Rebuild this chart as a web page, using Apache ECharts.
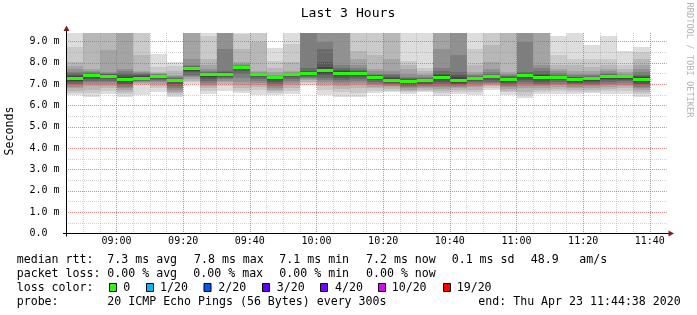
<!DOCTYPE html>
<html><head><meta charset="utf-8">
<script src="https://cdn.jsdelivr.net/npm/echarts@6/dist/echarts.min.js"></script>
<style>html,body{margin:0;padding:0;background:#fff}#c{width:697px;height:315px}</style>
</head><body><div id="c"></div>
<script>
// ---------- DATA ----------
const title = 'Last 3 Hours';
const yName = 'Seconds';
const axisStart = '08:45';
const axisEnd = '11:45';
const stepMinutes = 5;
const xTickLabels = ['09:00','09:20','09:40','10:00','10:20','10:40','11:00','11:20','11:40'];
const yTickLabels = ['0.0','1.0 m','2.0 m','3.0 m','4.0 m','5.0 m','6.0 m','7.0 m','8.0 m','9.0 m'];
const times = ['08:45','08:50','08:55','09:00','09:05','09:10','09:15','09:20','09:25','09:30','09:35','09:40',
  '09:45','09:50','09:55','10:00','10:05','10:10','10:15','10:20','10:25','10:30','10:35','10:40',
  '10:45','10:50','10:55','11:00','11:05','11:10','11:15','11:20','11:25','11:30','11:35'];
const medians = [7.27,7.40,7.37,7.22,7.28,7.34,7.19,7.73,7.45,7.45,7.78,7.45,7.30,7.45,7.52,7.62,7.50,7.48,
  7.32,7.18,7.14,7.16,7.32,7.18,7.28,7.36,7.20,7.42,7.30,7.33,7.22,7.25,7.36,7.34,7.24];
// 20 sorted ping round-trip times (ms) per 5-minute step
const col00 = [6.47,6.60,6.70,6.80,6.88,6.95,7.02,7.08,7.15,7.22,7.32,7.38,7.45,7.52,7.58,7.70,7.85,8.03,8.73,9.60];
const col01 = [6.39,6.60,6.75,6.90,7.00,7.09,7.15,7.22,7.30,7.36,7.43,7.45,7.48,7.52,7.56,7.62,7.72,9.50,9.70,9.90];
const col02 = [6.55,6.68,6.80,6.90,7.00,7.08,7.15,7.22,7.28,7.34,7.40,7.43,7.46,7.49,7.52,7.56,8.58,9.50,9.70,9.90];
const col03 = [6.39,6.52,6.62,6.72,6.80,6.88,6.95,7.02,7.10,7.18,7.27,7.34,7.42,7.52,7.62,7.72,9.45,9.60,9.80,10.0];
const col04 = [6.49,6.96,7.02,7.06,7.10,7.13,7.16,7.19,7.22,7.25,7.33,7.38,7.42,7.46,7.52,7.58,7.64,8.35,9.50,9.70];
const col05 = [6.62,6.80,6.92,7.02,7.10,7.15,7.19,7.23,7.27,7.31,7.37,7.40,7.42,7.44,7.46,7.49,7.52,7.56,7.80,8.42];
const col06 = [6.39,6.50,6.58,6.65,6.72,6.80,6.90,7.00,7.10,7.15,7.22,7.24,7.26,7.29,7.33,7.38,7.45,7.60,7.85,8.06];
const col07 = [7.02,7.08,7.15,7.25,7.33,7.38,7.45,7.55,7.62,7.70,7.76,7.78,7.80,7.84,7.92,8.19,9.50,9.70,9.90,10.1];
const col08 = [6.55,6.70,6.80,6.90,6.98,7.05,7.15,7.25,7.35,7.42,7.48,7.50,7.53,7.57,7.62,7.70,7.90,8.20,9.25,9.60];
const col09 = [6.70,6.92,7.00,7.08,7.15,7.22,7.28,7.33,7.38,7.42,7.47,7.50,7.55,7.60,8.67,9.50,9.60,9.80,10.0,10.2];
const col10 = [6.57,6.70,6.80,6.95,7.10,7.30,7.50,7.62,7.70,7.75,7.80,7.82,7.84,7.87,7.90,7.95,8.05,8.67,9.35,9.60];
const col11 = [6.50,6.72,6.85,6.95,7.05,7.15,7.25,7.33,7.38,7.42,7.47,7.49,7.50,7.51,7.53,7.56,7.60,8.98,9.50,9.70];
const col12 = [6.49,6.60,6.68,6.75,6.82,6.90,7.00,7.10,7.20,7.27,7.31,7.33,7.35,7.37,7.40,7.45,7.55,7.75,8.10,8.70];
const col13 = [6.55,6.70,6.80,6.95,7.05,7.15,7.25,7.32,7.38,7.43,7.47,7.48,7.49,7.50,7.52,7.55,7.60,8.05,8.90,9.60];
const col14 = [6.97,7.05,7.12,7.20,7.25,7.30,7.35,7.40,7.45,7.50,7.55,7.58,7.62,7.75,9.50,9.60,9.80,10.0,10.3,10.6];
const col15 = [6.50,6.75,6.90,7.00,7.10,7.20,7.30,7.42,7.50,7.60,7.70,7.80,8.05,8.67,8.98,9.50,9.70,9.90,10.1,10.4];
const col16 = [6.42,6.62,6.78,6.90,7.00,7.08,7.18,7.28,7.38,7.46,7.56,7.62,7.68,7.75,7.90,9.45,9.60,9.80,10.0,10.2];
const col17 = [6.40,6.60,6.80,6.95,7.05,7.15,7.25,7.33,7.40,7.46,7.52,7.55,7.60,7.66,7.75,7.90,8.20,8.55,9.50,9.70];
const col18 = [6.57,6.70,6.80,6.88,6.95,7.02,7.10,7.18,7.25,7.30,7.36,7.39,7.42,7.45,7.50,7.60,7.73,8.36,9.45,9.60];
const col19 = [6.64,6.70,6.78,6.85,6.90,6.95,7.00,7.05,7.10,7.14,7.22,7.28,7.35,7.42,7.50,7.60,8.20,9.50,9.70,9.90];
const col20 = [6.52,6.62,6.70,6.75,6.80,6.85,6.90,6.98,7.05,7.10,7.17,7.20,7.23,7.28,7.35,7.50,7.70,7.89,8.10,9.60];
const col21 = [6.62,6.68,6.75,6.82,6.88,6.93,6.98,7.03,7.08,7.12,7.18,7.21,7.25,7.30,7.35,7.42,7.50,7.60,7.75,9.60];
const col22 = [6.43,6.60,6.70,6.78,6.85,6.92,7.00,7.10,7.20,7.28,7.37,7.42,7.50,7.60,7.75,8.67,9.50,9.70,9.90,10.1];
const col23 = [6.55,6.62,6.72,6.80,6.85,6.90,6.95,7.00,7.07,7.13,7.25,7.32,7.42,7.55,8.36,9.50,9.70,9.90,10.1,10.3];
const col24 = [6.49,6.65,6.75,6.85,6.92,7.00,7.08,7.15,7.20,7.24,7.30,7.32,7.35,7.38,7.42,7.48,7.55,7.89,8.67,9.60];
const col25 = [6.75,6.83,6.90,6.95,7.00,7.05,7.12,7.20,7.27,7.33,7.40,7.42,7.45,7.50,7.58,7.70,8.05,8.83,9.50,9.70];
const col26 = [6.50,6.62,6.70,6.78,6.85,6.92,6.98,7.04,7.10,7.16,7.23,7.27,7.32,7.37,7.43,7.50,7.58,9.50,9.70,9.90];
const col27 = [6.33,6.50,6.65,6.80,6.90,7.00,7.10,7.20,7.30,7.38,7.45,7.48,7.52,7.58,8.98,9.50,9.70,9.90,10.1,10.3];
const col28 = [6.55,6.62,6.72,6.82,6.90,6.97,7.03,7.10,7.18,7.25,7.35,7.42,7.50,7.62,7.75,7.89,9.50,9.70,9.90,10.1];
const col29 = [6.55,6.68,6.78,6.87,6.95,7.02,7.10,7.18,7.24,7.29,7.35,7.37,7.40,7.45,7.52,7.60,7.70,7.89,8.36,9.28];
const col30 = [6.55,6.62,6.72,6.80,6.88,6.94,7.00,7.06,7.12,7.18,7.26,7.29,7.32,7.36,7.42,7.50,7.62,7.89,8.20,9.60];
const col31 = [6.57,6.65,6.74,6.82,6.90,6.96,7.02,7.08,7.15,7.21,7.28,7.30,7.33,7.37,7.42,7.50,7.60,7.80,8.20,8.82];
const col32 = [6.55,6.68,6.78,6.87,6.95,7.02,7.10,7.18,7.25,7.31,7.38,7.40,7.43,7.47,7.52,7.60,7.70,7.90,8.20,9.24];
const col33 = [6.55,6.70,6.80,6.90,6.98,7.06,7.14,7.20,7.26,7.30,7.36,7.38,7.40,7.42,7.45,7.50,7.58,7.70,7.90,8.57];
const col34 = [6.42,6.52,6.62,6.72,6.80,6.87,6.95,7.03,7.12,7.20,7.27,7.32,7.38,7.45,7.55,7.70,7.90,8.20,8.50,8.74];

const rttLabel = 'median rtt:';
const rttStats = ['7.3 ms avg','7.8 ms max','7.1 ms min','7.2 ms now','0.1 ms sd','48.9','am/s'];
const lossLabel = 'packet loss:';
const lossStats = ['0.00 % avg','0.00 % max','0.00 % min','0.00 % now'];
const colorLabel = 'loss color:';
const lossNames = ['0','1/20','2/20','3/20','4/20','10/20','19/20'];
const lossColors = ['#26ff00','#00b8ff','#0059ff','#5e00ff','#7e00ff','#dd00ff','#ff0000'];
const probeLabel = 'probe:';
const probeText = '20 ICMP Echo Pings (56 Bytes) every 300s';
const endText = 'end: Thu Apr 23 11:44:38 2020';
const watermark = 'RRDTOOL / TOBI OETIKER';

// ---------- LAYOUT ----------
const MONO = '"DejaVu Sans Mono", monospace';
const G = {left: 66.5, right: 30.5, top: 33, bottom: 81.5};
const rttX = [107.3, 194, 279.3, 366, 451.7, 530.7, 579.3];
const lossX = [107.3, 193.3, 279.3, 366];
const boxX = [109, 146, 203.5, 262, 320, 378, 443];
const boxTextX = [123.3, 160, 218.3, 276.7, 335, 391.7, 456.7];
const lineY = [259.7, 273.7, 287.7, 301.7];

// ---------- BUILD ----------
const toMin = s => { const [h, m] = s.split(':').map(Number); return h * 60 + m; };
const x0 = toMin(axisStart);
const span = toMin(axisEnd) - x0;
const fmtMin = v => { const m = x0 + v; const h = Math.floor(m / 60), mm = m % 60; return String(h).padStart(2, '0') + ':' + String(mm).padStart(2, '0'); };
const cols = [col00,col01,col02,col03,col04,col05,col06,col07,col08,col09,col10,col11,col12,col13,col14,col15,col16,
  col17,col18,col19,col20,col21,col22,col23,col24,col25,col26,col27,col28,col29,col30,col31,col32,col33,col34];
const data = times.map((t, i) => {
  const s = toMin(t) - x0;
  return [s, s + stepMinutes, medians[i]].concat(cols[i]);
});
const dims = ['t0', 't1', 'med'];
for (let i = 1; i <= 20; i++) dims.push('p' + i);
// category list of every 5-minute grid position (used for the major grid / time labels)
const gridTimes = [];
for (let v = 0; v <= span; v += stepMinutes) gridTimes.push(fmtMin(v));

const chart = echarts.init(document.getElementById('c'), null, {renderer: 'canvas'});

function renderItem(params, api) {
  const cs = params.coordSys;
  const clip = {x: cs.x, y: cs.y, width: cs.width, height: cs.height};
  const t0 = api.value(0), t1 = api.value(1), med = api.value(2);
  const children = [];
  const half = 10;
  for (let b = 1; b <= half; b++) {
    const lo = api.value(2 + b);
    const hi = api.value(2 + 21 - b);
    const a = api.coord([t0, hi]);
    const c = api.coord([t1, lo]);
    const xa = Math.round(a[0]), xc = Math.round(c[0]);
    const ya = Math.round(a[1]), yc = Math.round(c[1]);
    const shape = echarts.graphic.clipRectByRect({x: xa, y: ya, width: xc - xa, height: yc - ya}, clip);
    const g = Math.floor(190 / half * (half - b)) + 50;
    if (shape && shape.height > 0) children.push({type: 'rect', shape, style: {fill: 'rgb(' + g + ',' + g + ',' + g + ')'}});
  }
  const m0 = api.coord([t0, med]), m1 = api.coord([t1, med]);
  const xm0 = Math.round(m0[0]), xm1 = Math.round(m1[0]);
  children.push({type: 'rect', shape: {x: xm0, y: Math.round(m0[1] - 1.5), width: xm1 - xm0, height: 3},
    style: {fill: lossColors[0]}});
  return {type: 'group', children};
}

const graphics = [];
const txt = (text, x, y, opts = {}) => graphics.push({type: 'text', x, y, rotation: opts.rotation || 0, silent: true,
  style: {text, font: (opts.size || 11.6) + 'px ' + MONO, fill: opts.fill || '#000', align: opts.align || 'left', verticalAlign: 'middle'}});
txt(title, 348, 13.5, {size: 13.1, align: 'center'});
txt(yName, 10, 131, {rotation: Math.PI / 2, align: 'center'});
txt(watermark, 689, 60, {rotation: -Math.PI / 2, align: 'center', size: 8.7, fill: '#b4b4b4'});
txt(rttLabel, 16.7, lineY[0]);
rttStats.forEach((s, i) => txt(s, rttX[i], lineY[0]));
txt(lossLabel, 16.7, lineY[1]);
lossStats.forEach((s, i) => txt(s, lossX[i], lineY[1]));
txt(colorLabel, 16.7, lineY[2]);
lossNames.forEach((s, i) => {
  graphics.push({type: 'rect', silent: true, shape: {x: boxX[i] + 0.5, y: lineY[2] - 4.2, width: 7, height: 8}, style: {fill: lossColors[i], stroke: '#000', lineWidth: 1}});
  txt(s, boxTextX[i], lineY[2]);
});
txt(probeLabel, 16.7, lineY[3]);
txt(probeText, 107.3, lineY[3]);
txt(endText, 478.3, lineY[3]);
// axis lines and arrows
const axY = 315 - G.bottom; // 233.5
const arrow = 'rgb(128,31,31)';
graphics.push({type: 'line', silent: true, z: 10, shape: {x1: 63, y1: axY, x2: 669, y2: axY}, style: {stroke: '#000', lineWidth: 1}});
graphics.push({type: 'line', silent: true, z: 10, shape: {x1: 66.5, y1: axY + 3, x2: 66.5, y2: 30}, style: {stroke: '#000', lineWidth: 1}});
graphics.push({type: 'polygon', silent: true, z: 10, shape: {points: [[63.5, 31], [69.5, 31], [66.5, 25.5]]}, style: {fill: arrow}});
graphics.push({type: 'polygon', silent: true, z: 10, shape: {points: [[668.5, 230.5], [668.5, 236.5], [674, 233.5]]}, style: {fill: arrow}});

const minorGrid = 'rgba(140,140,140,0.38)';
const majorGrid = 'rgba(245,79,79,0.6)';

chart.setOption({
  animation: false,
  backgroundColor: '#fff',
  grid: {left: G.left, right: G.right, top: G.top, bottom: G.bottom, containLabel: false},
  xAxis: [{
    type: 'value', min: 0, max: span, interval: stepMinutes, z: 5, position: 'bottom',
    axisLine: {show: false}, axisTick: {show: false}, axisLabel: {show: false},
    splitLine: {show: true, showMaxLine: false, lineStyle: {color: minorGrid, type: [1, 1], width: 1}}
  }, {
    type: 'category', data: gridTimes, boundaryGap: false, z: 6, position: 'bottom',
    axisLine: {show: false}, axisTick: {show: false},
    axisLabel: {margin: 3, fontSize: 10, fontFamily: MONO, color: '#000',
      interval: (i, v) => xTickLabels.includes(v)},
    splitLine: {show: true, interval: (i, v) => xTickLabels.includes(v),
      lineStyle: {color: majorGrid, type: [1, 1], width: 1}}
  }],
  yAxis: [{
    type: 'value', min: 0, max: 9.4, interval: 1, z: 6,
    axisLine: {show: false}, axisTick: {show: false},
    axisLabel: {margin: 37, align: 'left', fontSize: 10, fontFamily: MONO, color: '#000',
      formatter: v => { const r = Math.round(v); return Math.abs(v - r) < 1e-6 && r < yTickLabels.length ? yTickLabels[r] : ''; }},
    splitLine: {show: true, showMaxLine: false, lineStyle: {color: majorGrid, type: [1, 1], dashOffset: 0.5, width: 1}}
  }, {
    type: 'value', min: 0, max: 9.4, interval: 0.5, z: 5, position: 'left',
    axisLine: {show: false}, axisTick: {show: false}, axisLabel: {show: false},
    splitLine: {show: true, showMaxLine: false, lineStyle: {color: minorGrid, type: [1, 1], dashOffset: 0.5, width: 1}}
  }],
  series: [{
    type: 'custom', renderItem, data, dimensions: dims, xAxisIndex: 0, yAxisIndex: 0,
    encode: {x: [0, 1], y: [2]}, z: 2, silent: true
  }],
  graphic: graphics
});
</script></body></html>
